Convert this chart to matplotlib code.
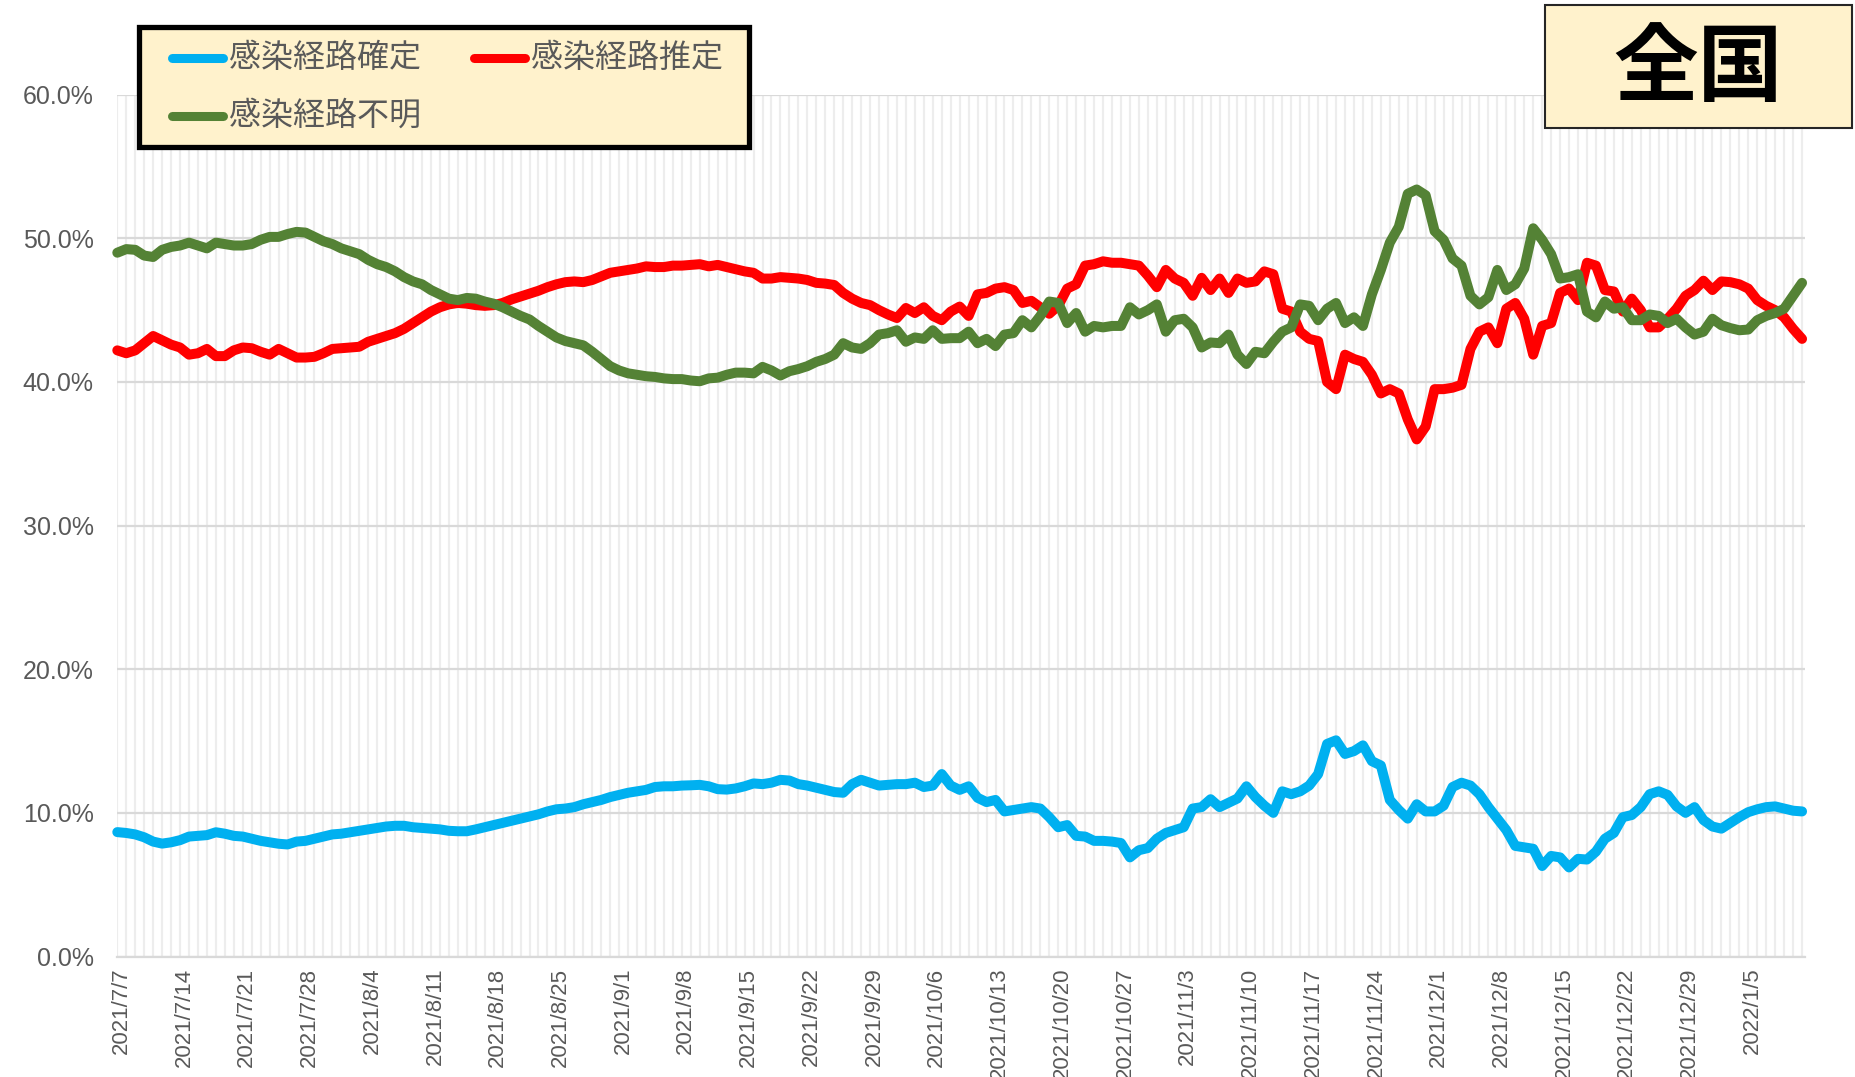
import matplotlib
matplotlib.use("Agg")
import matplotlib.pyplot as plt
from matplotlib.ticker import MultipleLocator, FixedLocator, FuncFormatter
from matplotlib.patches import Rectangle
from matplotlib.lines import Line2D
from matplotlib.transforms import ScaledTranslation

plt.rcParams['font.family'] = ['Liberation Sans', 'Noto Sans CJK JP', 'DejaVu Sans']

# Daily share of cases by infection route (%), 2021/7/7 - 2022/1/11
confirmed = [
    8.66, 8.6, 8.5, 8.3, 8.0, 7.86, 7.95, 8.1, 8.35, 8.4,
    8.45, 8.65, 8.55, 8.4, 8.35, 8.2, 8.05, 7.95, 7.85, 7.8,
    8.0, 8.05, 8.2, 8.35, 8.5, 8.55, 8.65, 8.75, 8.85, 8.95,
    9.05, 9.1, 9.1, 9.0, 8.95, 8.9, 8.85, 8.75, 8.72, 8.72,
    8.85, 9.0, 9.15, 9.3, 9.45, 9.6, 9.75, 9.9, 10.1, 10.25,
    10.3, 10.4, 10.6, 10.75, 10.9, 11.1, 11.25, 11.4, 11.5, 11.6,
    11.8, 11.85, 11.85, 11.9, 11.92, 11.95, 11.85, 11.65, 11.62, 11.7,
    11.85, 12.05, 12.0, 12.1, 12.3, 12.25, 12.0, 11.9, 11.75, 11.6,
    11.45, 11.4, 12.0, 12.3, 12.1, 11.9, 11.95, 12.0, 12.0, 12.1,
    11.8, 11.9, 12.7, 11.9, 11.6, 11.85, 11.05, 10.75, 10.9, 10.1,
    10.2, 10.3, 10.4, 10.3, 9.7, 9.0, 9.15, 8.4, 8.35, 8.05,
    8.05, 8.0, 7.9, 6.9, 7.4, 7.55, 8.2, 8.6, 8.8, 9.0,
    10.3, 10.4, 10.95, 10.4, 10.7, 11.0, 11.85, 11.1, 10.5, 10.0,
    11.5, 11.3, 11.5, 11.9, 12.7, 14.8, 15.05, 14.1, 14.3, 14.7,
    13.6, 13.3, 10.9, 10.2, 9.6, 10.6, 10.1, 10.1, 10.5, 11.8,
    12.1, 11.9, 11.3, 10.4, 9.6, 8.8, 7.7, 7.6, 7.5, 6.3,
    7.0, 6.9, 6.2, 6.8, 6.75, 7.3, 8.2, 8.6, 9.7, 9.85,
    10.4, 11.3, 11.5, 11.25, 10.45, 10.0, 10.4, 9.5, 9.05, 8.9,
    9.3, 9.7, 10.05, 10.25, 10.4, 10.45, 10.3, 10.15, 10.1,
]

estimated = [
    42.2, 42.0, 42.2, 42.7, 43.2, 42.9, 42.6, 42.4, 41.9, 42.0,
    42.3, 41.8, 41.8, 42.2, 42.4, 42.35, 42.1, 41.9, 42.3, 42.0,
    41.7, 41.7, 41.75, 42.0, 42.3, 42.35, 42.4, 42.45, 42.8, 43.0,
    43.2, 43.4, 43.7, 44.1, 44.5, 44.9, 45.2, 45.4, 45.5, 45.45,
    45.35, 45.3, 45.35, 45.5, 45.75, 45.95, 46.15, 46.35, 46.6, 46.8,
    46.95, 47.0, 46.95, 47.1, 47.35, 47.6, 47.7, 47.8, 47.9, 48.05,
    48.0, 48.0, 48.1, 48.1, 48.15, 48.2, 48.05, 48.15, 48.0, 47.85,
    47.7, 47.6, 47.2, 47.2, 47.3, 47.25, 47.2, 47.1, 46.9, 46.85,
    46.75, 46.2, 45.8, 45.5, 45.35, 45.0, 44.7, 44.45, 45.15, 44.8,
    45.2, 44.6, 44.3, 44.9, 45.25, 44.6, 46.1, 46.2, 46.5, 46.6,
    46.4, 45.5, 45.65, 45.2, 44.75, 45.3, 46.5, 46.8, 48.1, 48.2,
    48.4, 48.3, 48.3, 48.2, 48.1, 47.4, 46.6, 47.8, 47.2, 46.9,
    46.0, 47.25, 46.4, 47.2, 46.2, 47.2, 46.9, 47.0, 47.7, 47.5,
    45.1, 44.9, 43.5, 43.0, 42.85, 40.0, 39.5, 41.9, 41.6, 41.4,
    40.5, 39.2, 39.5, 39.2, 37.4, 36.0, 36.9, 39.5, 39.5, 39.6,
    39.8, 42.3, 43.5, 43.8, 42.7, 45.1, 45.5, 44.4, 41.9, 43.9,
    44.1, 46.2, 46.5, 45.7, 48.3, 48.1, 46.4, 46.3, 44.9, 45.8,
    45.0, 43.8, 43.8, 44.4, 45.1, 46.0, 46.4, 47.05, 46.4, 47.0,
    46.95, 46.8, 46.5, 45.7, 45.3, 45.0, 44.5, 43.7, 43.0,
]

unknown = [
    49.0, 49.25, 49.2, 48.8, 48.7, 49.2, 49.4, 49.5, 49.7, 49.5,
    49.3, 49.7, 49.6, 49.5, 49.5, 49.6, 49.9, 50.1, 50.1, 50.3,
    50.45, 50.4, 50.1, 49.8, 49.6, 49.3, 49.1, 48.9, 48.5, 48.2,
    48.0, 47.7, 47.3, 47.0, 46.8, 46.4, 46.1, 45.8, 45.7, 45.85,
    45.8, 45.6, 45.45, 45.2, 44.9, 44.6, 44.35, 43.9, 43.5, 43.1,
    42.85, 42.7, 42.55, 42.1, 41.6, 41.1, 40.8, 40.6, 40.5, 40.4,
    40.35, 40.25, 40.2, 40.2, 40.1, 40.05, 40.25, 40.3, 40.5, 40.65,
    40.65, 40.6, 41.05, 40.8, 40.45, 40.75, 40.9, 41.1, 41.4, 41.6,
    41.9, 42.7, 42.4, 42.3, 42.7, 43.3, 43.4, 43.6, 42.8, 43.1,
    43.0, 43.6, 43.0, 43.05, 43.05, 43.5, 42.7, 43.0, 42.5, 43.3,
    43.4, 44.3, 43.8, 44.6, 45.6, 45.5, 44.1, 44.8, 43.5, 43.9,
    43.8, 43.9, 43.9, 45.2, 44.7, 45.0, 45.4, 43.5, 44.3, 44.4,
    43.8, 42.4, 42.75, 42.7, 43.3, 41.9, 41.25, 42.1, 42.0, 42.8,
    43.5, 43.8, 45.4, 45.3, 44.3, 45.1, 45.5, 44.1, 44.5, 43.9,
    46.1, 47.8, 49.7, 50.8, 53.1, 53.4, 53.0, 50.5, 49.9, 48.6,
    48.1, 46.0, 45.4, 45.9, 47.8, 46.4, 46.8, 47.9, 50.7, 49.9,
    48.9, 47.2, 47.3, 47.5, 44.9, 44.5, 45.6, 45.1, 45.2, 44.3,
    44.3, 44.7, 44.6, 44.1, 44.4, 43.8, 43.3, 43.5, 44.4, 43.95,
    43.75, 43.6, 43.65, 44.3, 44.6, 44.8, 45.1, 46.0, 46.9,
]

series_names = ['感染経路確定', '感染経路推定', '感染経路不明']
series_colors = ['#00B0F0', '#FF0000', '#548235']

# Weekly date labels on the category axis (every 7th day)
tick_labels = [
    '2021/7/7', '2021/7/14', '2021/7/21', '2021/7/28', '2021/8/4',
    '2021/8/11', '2021/8/18', '2021/8/25', '2021/9/1', '2021/9/8',
    '2021/9/15', '2021/9/22', '2021/9/29', '2021/10/6', '2021/10/13',
    '2021/10/20', '2021/10/27', '2021/11/3', '2021/11/10', '2021/11/17',
    '2021/11/24', '2021/12/1', '2021/12/8', '2021/12/15', '2021/12/22',
    '2021/12/29', '2022/1/5',
]
region_title = '全国'

W_PX, H_PX = 1856, 1077
fig = plt.figure(figsize=(W_PX / 100, H_PX / 100), dpi=100)


def fx(px):
    return px / W_PX


def fy(py):
    return 1 - py / H_PX


ax_left, ax_right, ax_top, ax_bottom = 117.3, 1805, 94.7, 956.5
ax = fig.add_axes([fx(ax_left), fy(ax_bottom),
                   fx(ax_right - ax_left), (ax_bottom - ax_top) / H_PX])

n = len(confirmed)
x = list(range(n))
for vals, color in zip([confirmed, estimated, unknown], series_colors):
    ax.plot(x, vals, color=color, lw=7.2, solid_joinstyle='round',
            solid_capstyle='round', clip_on=False, zorder=3)

ax.set_xlim(0, (n - 1) + 0.33)
ax.set_ylim(0, 60)

ax.yaxis.set_major_locator(MultipleLocator(10))
ax.yaxis.set_major_formatter(FuncFormatter(lambda v, p: f'{v:.1f}%'))
ax.xaxis.set_major_locator(FixedLocator(list(range(0, 7 * len(tick_labels), 7))))
ax.set_xticklabels(tick_labels, rotation=90)
ax.xaxis.set_minor_locator(MultipleLocator(1))

ax.set_axisbelow(True)
ax.grid(which='both', axis='x', color='#EDEDED', lw=1.6)
ax.grid(which='major', axis='y', color='#D9D9D9', lw=1.6)

for side in ['top', 'right', 'left']:
    ax.spines[side].set_visible(False)
ax.spines['bottom'].set_color('#D9D9D9')
ax.spines['bottom'].set_linewidth(1.6)

ax.tick_params(axis='y', which='both', length=0, pad=17, labelsize=18,
               labelcolor='#595959')
ax.tick_params(axis='x', which='both', length=0, pad=8, labelsize=16,
               labelcolor='#595959')

# nudge the rotated date labels slightly to the right of their ticks
shift = ScaledTranslation(4 / 100, 0, fig.dpi_scale_trans)
for lbl in ax.get_xticklabels():
    lbl.set_transform(lbl.get_transform() + shift)

# Legend panel
fig.add_artist(Rectangle((fx(139), fy(147)), fx(610), 120 / H_PX,
                         transform=fig.transFigure, facecolor='#FFF2CC',
                         edgecolor='black', lw=3.8, zorder=10))
legend_slots = [(168, 58), (470, 58), (168, 116)]
for (hx, hy), name, color in zip(legend_slots, series_names, series_colors):
    fig.add_artist(Line2D([fx(hx + 4), fx(hx + 55)], [fy(hy), fy(hy)],
                          transform=fig.transFigure, color=color, lw=6.5,
                          solid_capstyle='round', zorder=11))
    fig.text(fx(hx + 61), fy(hy), name, fontsize=23, color='#595959',
             family=['Noto Sans CJK JP'], va='center', ha='left', zorder=12)

# Region title panel
fig.add_artist(Rectangle((fx(1545), fy(128)), fx(307), 123 / H_PX,
                         transform=fig.transFigure, facecolor='#FFF2CC',
                         edgecolor='#262626', lw=1.5, zorder=10))
fig.text(fx(1698), fy(69), region_title, fontsize=61, fontweight='bold',
         color='black', family=['Noto Sans CJK JP'], ha='center',
         va='center', zorder=12)

fig.savefig('out.png', dpi=100)
